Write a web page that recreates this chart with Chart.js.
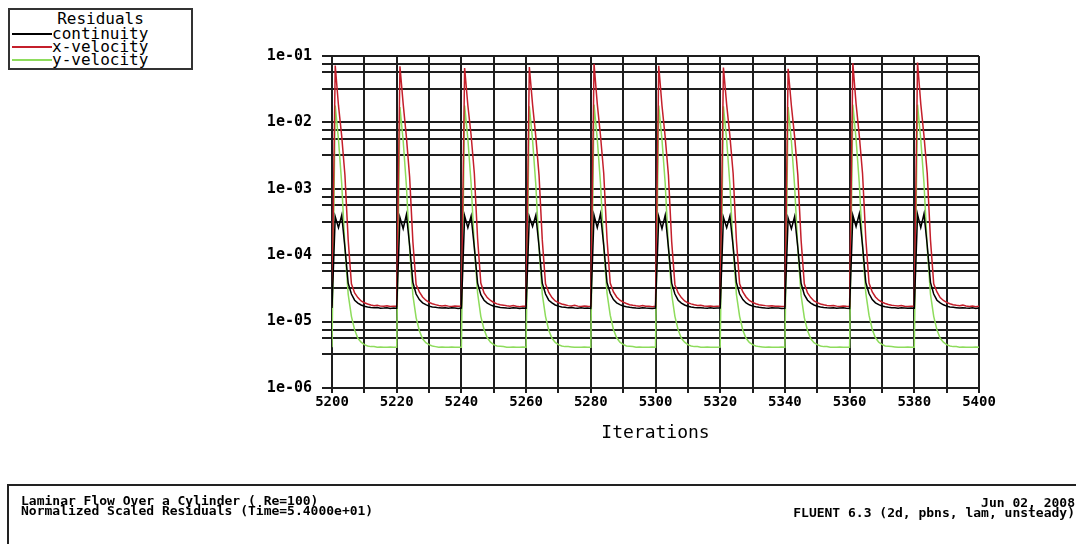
<!DOCTYPE html>
<html>
<head>
<meta charset="utf-8">
<title>Residuals</title>
<script src="https://cdn.jsdelivr.net/npm/chart.js@4.4.1/dist/chart.umd.min.js"></script>
<style>
    html, body { margin: 0; padding: 0; background: #fff; }
    body { width: 1076px; height: 544px; position: relative; overflow: hidden; font-family: 'DejaVu Sans Mono', monospace; color: #000; }
    #residualChart { position: absolute; left: 0; top: 0; }
    .legend-box { position: absolute; left: 8px; top: 8px; width: 181px; height: 58px; border: 2px solid #333; background: #fff; }
    .legend-title { position: absolute; left: 0; top: 2px; width: 100%; text-align: center; font-size: 16px; line-height: 14px; }
    .legend-row { position: absolute; left: 2px; height: 14px; font-size: 16px; line-height: 14px; white-space: nowrap; }
    .legend-row .sample { position: absolute; left: 0; top: 6px; width: 40px; height: 0; border-top: 2px solid #000; }
    .legend-row .label { position: absolute; left: 40px; top: 0; }
    .caption-box { position: absolute; left: 7px; top: 484px; width: 1100px; height: 80px; border: 2px solid #222; }
    .caption { position: absolute; font-size: 13px; font-weight: bold; line-height: 10px; white-space: nowrap; }
</style>
</head>
<body>
<canvas id="residualChart" width="1076" height="544"></canvas>
<div class="legend-box" id="legendBox"><div class="legend-title">Residuals</div></div>
<div class="caption-box"></div>
<div class="caption" style="left:21px; top:496px;">Laminar Flow Over a Cylinder ( Re=100)</div>
<div class="caption" style="left:21px; top:506px;">Normalized Scaled Residuals  (Time=5.4000e+01)</div>
<div class="caption" style="right:1px; top:498px; text-align:right;">Jun 02, 2008</div>
<div class="caption" style="right:1px; top:508px; text-align:right;">FLUENT 6.3 (2d, pbns, lam, unsteady)</div>

<script>
// Iterations 5200..5400, one point per iteration
const firstIteration = 5200;
const lastIteration = 5400;
const iterations = [];
for (let it = firstIteration; it <= lastIteration; it++) iterations.push(it);

const seriesNames = ['continuity', 'x-velocity', 'y-velocity'];

// continuity residual (first value = iteration 5200, then one line per time step)
const continuity = [1.60e-5,
    3.8e-4, 2.6e-4, 4.0e-4, 1.3e-4, 3.8e-5, 2.6e-5, 2.1e-5, 1.9e-5, 1.78e-5, 1.70e-5, 1.66e-5, 1.63e-5, 1.61e-5, 1.63e-5, 1.59e-5, 1.60e-5, 1.62e-5, 1.58e-5, 1.60e-5, 1.59e-5,
    3.7e-4, 2.5e-4, 4.1e-4, 1.4e-4, 3.9e-5, 2.6e-5, 2.15e-5, 1.92e-5, 1.8e-5, 1.71e-5, 1.66e-5, 1.64e-5, 1.61e-5, 1.60e-5, 1.62e-5, 1.59e-5, 1.61e-5, 1.60e-5, 1.58e-5, 1.60e-5,
    3.9e-4, 2.6e-4, 3.9e-4, 1.3e-4, 3.8e-5, 2.55e-5, 2.1e-5, 1.9e-5, 1.79e-5, 1.70e-5, 1.67e-5, 1.63e-5, 1.62e-5, 1.60e-5, 1.59e-5, 1.62e-5, 1.60e-5, 1.58e-5, 1.60e-5, 1.59e-5,
    3.8e-4, 2.7e-4, 4.0e-4, 1.35e-4, 3.8e-5, 2.6e-5, 2.1e-5, 1.91e-5, 1.78e-5, 1.71e-5, 1.66e-5, 1.64e-5, 1.61e-5, 1.63e-5, 1.60e-5, 1.59e-5, 1.61e-5, 1.59e-5, 1.60e-5, 1.58e-5,
    4.0e-4, 2.6e-4, 4.2e-4, 1.4e-4, 3.9e-5, 2.65e-5, 2.15e-5, 1.92e-5, 1.8e-5, 1.72e-5, 1.67e-5, 1.64e-5, 1.62e-5, 1.60e-5, 1.59e-5, 1.62e-5, 1.60e-5, 1.59e-5, 1.58e-5, 1.60e-5,
    3.8e-4, 2.5e-4, 4.0e-4, 1.3e-4, 3.8e-5, 2.6e-5, 2.1e-5, 1.9e-5, 1.78e-5, 1.70e-5, 1.66e-5, 1.63e-5, 1.61e-5, 1.62e-5, 1.60e-5, 1.59e-5, 1.61e-5, 1.59e-5, 1.60e-5, 1.60e-5,
    3.7e-4, 2.6e-4, 3.9e-4, 1.35e-4, 3.9e-5, 2.6e-5, 2.15e-5, 1.91e-5, 1.79e-5, 1.71e-5, 1.67e-5, 1.64e-5, 1.62e-5, 1.60e-5, 1.59e-5, 1.61e-5, 1.60e-5, 1.60e-5, 1.58e-5, 1.59e-5,
    3.6e-4, 2.5e-4, 3.8e-4, 1.3e-4, 3.8e-5, 2.55e-5, 2.1e-5, 1.9e-5, 1.78e-5, 1.70e-5, 1.66e-5, 1.63e-5, 1.61e-5, 1.60e-5, 1.62e-5, 1.59e-5, 1.60e-5, 1.61e-5, 1.59e-5, 1.58e-5,
    4.0e-4, 2.7e-4, 4.2e-4, 1.4e-4, 3.9e-5, 2.65e-5, 2.15e-5, 1.92e-5, 1.8e-5, 1.72e-5, 1.67e-5, 1.64e-5, 1.62e-5, 1.61e-5, 1.59e-5, 1.61e-5, 1.60e-5, 1.59e-5, 1.60e-5, 1.59e-5,
    4.1e-4, 2.6e-4, 4.2e-4, 1.4e-4, 3.9e-5, 2.6e-5, 2.1e-5, 1.91e-5, 1.79e-5, 1.71e-5, 1.66e-5, 1.64e-5, 1.62e-5, 1.60e-5, 1.62e-5, 1.60e-5, 1.59e-5, 1.61e-5, 1.58e-5, 1.60e-5
];

// x-velocity residual
const xVelocity = [1.70e-5,
    7.2e-2, 1.8e-2, 6.2e-3, 1.6e-3, 1.7e-4, 3.7e-5, 2.7e-5, 2.3e-5, 2.05e-5, 1.92e-5, 1.84e-5, 1.78e-5, 1.74e-5, 1.76e-5, 1.71e-5, 1.70e-5, 1.73e-5, 1.69e-5, 1.71e-5, 1.70e-5,
    7.0e-2, 1.9e-2, 6.0e-3, 1.5e-3, 1.6e-4, 3.6e-5, 2.8e-5, 2.35e-5, 2.1e-5, 1.95e-5, 1.86e-5, 1.80e-5, 1.75e-5, 1.72e-5, 1.75e-5, 1.71e-5, 1.69e-5, 1.72e-5, 1.70e-5, 1.71e-5,
    6.6e-2, 1.8e-2, 6.4e-3, 1.7e-3, 1.8e-4, 3.8e-5, 2.7e-5, 2.3e-5, 2.08e-5, 1.94e-5, 1.85e-5, 1.79e-5, 1.77e-5, 1.73e-5, 1.71e-5, 1.74e-5, 1.70e-5, 1.68e-5, 1.71e-5, 1.70e-5,
    6.8e-2, 1.85e-2, 6.1e-3, 1.6e-3, 1.7e-4, 3.7e-5, 2.75e-5, 2.3e-5, 2.05e-5, 1.93e-5, 1.84e-5, 1.79e-5, 1.74e-5, 1.72e-5, 1.76e-5, 1.71e-5, 1.69e-5, 1.72e-5, 1.70e-5, 1.69e-5,
    7.6e-2, 1.9e-2, 6.3e-3, 1.7e-3, 1.8e-4, 3.8e-5, 2.8e-5, 2.35e-5, 2.1e-5, 1.96e-5, 1.87e-5, 1.80e-5, 1.76e-5, 1.73e-5, 1.71e-5, 1.74e-5, 1.71e-5, 1.70e-5, 1.68e-5, 1.70e-5,
    7.1e-2, 1.8e-2, 6.0e-3, 1.6e-3, 1.6e-4, 3.6e-5, 2.7e-5, 2.3e-5, 2.05e-5, 1.92e-5, 1.85e-5, 1.79e-5, 1.75e-5, 1.76e-5, 1.72e-5, 1.70e-5, 1.72e-5, 1.69e-5, 1.70e-5, 1.71e-5,
    6.7e-2, 1.85e-2, 6.2e-3, 1.7e-3, 1.7e-4, 3.7e-5, 2.8e-5, 2.35e-5, 2.08e-5, 1.95e-5, 1.86e-5, 1.80e-5, 1.77e-5, 1.74e-5, 1.72e-5, 1.73e-5, 1.70e-5, 1.71e-5, 1.69e-5, 1.70e-5,
    6.4e-2, 1.8e-2, 6.1e-3, 1.6e-3, 1.7e-4, 3.7e-5, 2.7e-5, 2.3e-5, 2.05e-5, 1.93e-5, 1.84e-5, 1.79e-5, 1.75e-5, 1.73e-5, 1.75e-5, 1.71e-5, 1.69e-5, 1.72e-5, 1.70e-5, 1.69e-5,
    7.8e-2, 1.9e-2, 6.3e-3, 1.7e-3, 1.8e-4, 3.8e-5, 2.8e-5, 2.35e-5, 2.1e-5, 1.96e-5, 1.87e-5, 1.81e-5, 1.76e-5, 1.74e-5, 1.72e-5, 1.74e-5, 1.70e-5, 1.69e-5, 1.71e-5, 1.70e-5,
    8.0e-2, 1.9e-2, 6.2e-3, 1.7e-3, 1.7e-4, 3.7e-5, 2.8e-5, 2.3e-5, 2.08e-5, 1.95e-5, 1.86e-5, 1.80e-5, 1.76e-5, 1.74e-5, 1.77e-5, 1.72e-5, 1.69e-5, 1.71e-5, 1.68e-5, 1.70e-5
];

// y-velocity residual
const yVelocity = [4.1e-6,
    1.8e-2, 5.5e-3, 1.2e-3, 1.3e-4, 2.6e-5, 1.2e-5, 7.5e-6, 5.6e-6, 4.9e-6, 4.5e-6, 4.3e-6, 4.2e-6, 4.2e-6, 4.1e-6, 4.15e-6, 4.1e-6, 4.1e-6, 4.15e-6, 4.1e-6, 4.1e-6,
    1.7e-2, 5.3e-3, 1.1e-3, 1.25e-4, 2.5e-5, 1.15e-5, 7.3e-6, 5.5e-6, 4.8e-6, 4.5e-6, 4.3e-6, 4.2e-6, 4.1e-6, 4.15e-6, 4.1e-6, 4.1e-6, 4.15e-6, 4.1e-6, 4.1e-6, 4.1e-6,
    1.8e-2, 5.6e-3, 1.2e-3, 1.35e-4, 2.7e-5, 1.2e-5, 7.6e-6, 5.7e-6, 4.9e-6, 4.5e-6, 4.3e-6, 4.25e-6, 4.2e-6, 4.1e-6, 4.1e-6, 4.15e-6, 4.1e-6, 4.1e-6, 4.15e-6, 4.1e-6,
    1.75e-2, 5.4e-3, 1.15e-3, 1.3e-4, 2.6e-5, 1.2e-5, 7.4e-6, 5.6e-6, 4.85e-6, 4.5e-6, 4.3e-6, 4.2e-6, 4.2e-6, 4.15e-6, 4.1e-6, 4.1e-6, 4.1e-6, 4.15e-6, 4.1e-6, 4.1e-6,
    1.85e-2, 5.6e-3, 1.2e-3, 1.35e-4, 2.7e-5, 1.25e-5, 7.6e-6, 5.7e-6, 4.9e-6, 4.55e-6, 4.3e-6, 4.25e-6, 4.2e-6, 4.1e-6, 4.15e-6, 4.1e-6, 4.1e-6, 4.1e-6, 4.15e-6, 4.1e-6,
    1.8e-2, 5.5e-3, 1.2e-3, 1.3e-4, 2.6e-5, 1.2e-5, 7.5e-6, 5.6e-6, 4.9e-6, 4.5e-6, 4.3e-6, 4.2e-6, 4.2e-6, 4.1e-6, 4.1e-6, 4.15e-6, 4.1e-6, 4.1e-6, 4.1e-6, 4.15e-6,
    1.75e-2, 5.4e-3, 1.15e-3, 1.3e-4, 2.6e-5, 1.2e-5, 7.4e-6, 5.6e-6, 4.85e-6, 4.5e-6, 4.3e-6, 4.2e-6, 4.15e-6, 4.1e-6, 4.15e-6, 4.1e-6, 4.1e-6, 4.1e-6, 4.15e-6, 4.1e-6,
    1.7e-2, 5.3e-3, 1.1e-3, 1.25e-4, 2.5e-5, 1.15e-5, 7.3e-6, 5.5e-6, 4.8e-6, 4.5e-6, 4.3e-6, 4.2e-6, 4.2e-6, 4.1e-6, 4.1e-6, 4.1e-6, 4.15e-6, 4.1e-6, 4.1e-6, 4.1e-6,
    1.85e-2, 5.6e-3, 1.2e-3, 1.35e-4, 2.7e-5, 1.25e-5, 7.6e-6, 5.7e-6, 4.9e-6, 4.55e-6, 4.3e-6, 4.25e-6, 4.2e-6, 4.15e-6, 4.1e-6, 4.1e-6, 4.1e-6, 4.15e-6, 4.1e-6, 4.1e-6,
    1.85e-2, 5.5e-3, 1.2e-3, 1.3e-4, 2.6e-5, 1.2e-5, 7.5e-6, 5.6e-6, 4.9e-6, 4.5e-6, 4.3e-6, 4.2e-6, 4.2e-6, 4.1e-6, 4.15e-6, 4.1e-6, 4.1e-6, 4.1e-6, 4.15e-6, 4.1e-6
];

// axis ticks
const decadeTicks = [1e-6, 1e-5, 1e-4, 1e-3, 1e-2, 1e-1];
const minorFactors = [3.2, 5.7, 7.6];
const xTickStep = 10;
const xLabelStep = 20;

const seriesColors = ['#000000', '#c41f2b', '#8edc5c'];
const gridColor = '#1e1e1e';

function formatDecade(value) {
    const e = Math.round(Math.log10(value));
    return '1e-' + String(-e).padStart(2, '0');
}

const chart = new Chart(document.getElementById('residualChart'), {
    type: 'line',
    data: {
        labels: iterations,
        datasets: [continuity, xVelocity, yVelocity].map((values, i) => ({
            label: seriesNames[i],
            data: values,
            borderColor: seriesColors[i],
            backgroundColor: seriesColors[i],
            borderWidth: 1.5,
            pointRadius: 0,
            tension: 0,
            fill: false
        }))
    },
    options: {
        responsive: false,
        animation: false,
        devicePixelRatio: 1,
        layout: { padding: { left: 0, top: 56, right: 97, bottom: 0 } },
        plugins: {
            legend: { display: false },
            tooltip: { enabled: false }
        },
        scales: {
            x: {
                type: 'linear',
                min: firstIteration,
                max: lastIteration,
                afterFit: (scale) => { scale.height = 156; },
                border: { color: gridColor, width: 2 },
                grid: { color: gridColor, lineWidth: 2, tickLength: 5, tickColor: gridColor },
                ticks: {
                    stepSize: xTickStep,
                    autoSkip: false,
                    maxRotation: 0,
                    padding: 1,
                    color: '#000',
                    font: { family: 'DejaVu Sans Mono', size: 14, weight: 'bold' },
                    callback: (value) => (value % xLabelStep === 0 ? String(value) : '')
                },
                title: {
                    display: true,
                    text: 'Iterations',
                    color: '#000',
                    font: { family: 'DejaVu Sans Mono', size: 18 },
                    padding: { top: 0, bottom: 100 }
                }
            },
            y: {
                type: 'logarithmic',
                min: 1e-6,
                max: 1e-1,
                afterFit: (scale) => { scale.width = 332; },
                afterBuildTicks: (scale) => {
                    const ticks = [];
                    decadeTicks.forEach(d => {
                        ticks.push({ value: d, major: true });
                        if (d < 1e-1) minorFactors.forEach(f => ticks.push({ value: d * f }));
                    });
                    ticks.sort((a, b) => a.value - b.value);
                    scale.ticks = ticks;
                },
                border: { color: gridColor, width: 2 },
                grid: { color: gridColor, lineWidth: 2, tickLength: 10, tickColor: gridColor },
                ticks: {
                    autoSkip: false,
                    padding: 10,
                    color: '#000',
                    font: { family: 'DejaVu Sans Mono', size: 15, weight: 'bold' },
                    callback: (value) => (decadeTicks.includes(value) ? formatDecade(value) : '')
                }
            }
        }
    }
});

// Legend box built from the chart datasets
const legendBox = document.getElementById('legendBox');
const rowTops = [17, 30, 43];
chart.data.datasets.forEach((ds, i) => {
    const row = document.createElement('div');
    row.className = 'legend-row';
    row.style.top = rowTops[i] + 'px';
    const sample = document.createElement('span');
    sample.className = 'sample';
    sample.style.borderTopColor = ds.borderColor;
    const label = document.createElement('span');
    label.className = 'label';
    label.textContent = ds.label;
    row.appendChild(sample);
    row.appendChild(label);
    legendBox.appendChild(row);
});
</script>
</body>
</html>
